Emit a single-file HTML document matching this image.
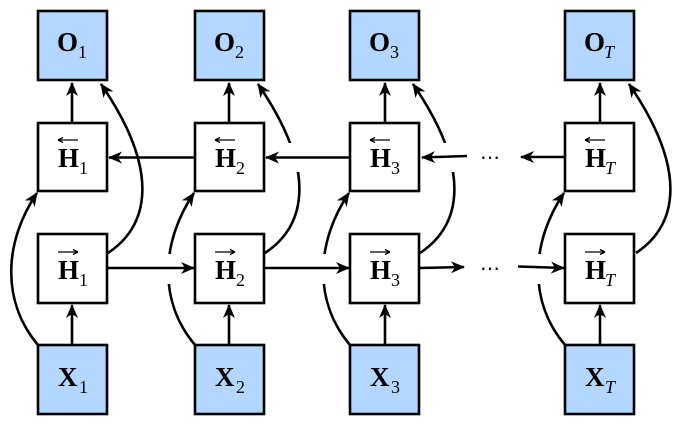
<!DOCTYPE html>
<html><head><meta charset="utf-8"><style>
html,body{margin:0;padding:0;background:#fff}
svg{display:block}
text{font-family:"Liberation Serif",serif}
.m{font-size:27px;font-weight:bold}
.s{font-size:18px;font-weight:normal}
.i{font-size:18px;font-weight:normal;font-style:italic}
</style></head><body>
<svg width="678" height="423" viewBox="0 0 678 423" xmlns="http://www.w3.org/2000/svg">
<defs>
<marker id="a" viewBox="0 0 14 12" refX="13" refY="6" markerWidth="14" markerHeight="12" markerUnits="userSpaceOnUse" orient="auto">
<path d="M0,0 L14,6 L0,12 L4,6 Z" fill="#000"/>
</marker>
</defs>
<g fill="none" stroke="#000" stroke-width="2.6">
<path d="M38,345 C0,300 5,240 37,193" marker-end="url(#a)"/>
<path d="M195,345 C157,300 162,240 194,193" marker-end="url(#a)"/>
<path d="M350,345 C312,300 317,240 349,193" marker-end="url(#a)"/>
<path d="M565,345 C527,300 532,240 564,193" marker-end="url(#a)"/>
<path d="M108,253 C150,225 160,170 101,84" marker-end="url(#a)"/>
<path d="M265,253 C307,225 317,170 258,84" marker-end="url(#a)"/>
<path d="M420,253 C462,225 472,170 413,84" marker-end="url(#a)"/>
<path d="M636,253 C678,225 688,170 629,84" marker-end="url(#a)"/>
</g>
<g fill="#fff">
<rect x="150" y="254" width="30" height="30"/>
<rect x="305" y="254" width="30" height="30"/>
<rect x="520" y="254" width="30" height="30"/>
<rect x="280" y="143" width="30" height="29"/>
<rect x="435" y="143" width="30" height="29"/>
</g>
<g fill="none" stroke="#000" stroke-width="2.6">
<path d="M72,123 V83" marker-end="url(#a)"/>
<path d="M229,123 V83" marker-end="url(#a)"/>
<path d="M385,123 V83" marker-end="url(#a)"/>
<path d="M600,123 V83" marker-end="url(#a)"/>
<path d="M72,345 V305" marker-end="url(#a)"/>
<path d="M229,345 V305" marker-end="url(#a)"/>
<path d="M385,345 V305" marker-end="url(#a)"/>
<path d="M600,345 V305" marker-end="url(#a)"/>
<path d="M195,157.5 H109" marker-end="url(#a)"/>
<path d="M350,157.5 H266" marker-end="url(#a)"/>
<path d="M467,156 L422,157.5" marker-end="url(#a)"/>
<path d="M565,157 H521" marker-end="url(#a)"/>
<path d="M108,268 H194" marker-end="url(#a)"/>
<path d="M265,268 H349" marker-end="url(#a)"/>
<path d="M420,268 L464,267" marker-end="url(#a)"/>
<path d="M518,266.5 L564,268" marker-end="url(#a)"/>
</g>
<g stroke="#000" stroke-width="2.6">
<rect x="38" y="11" width="69" height="69" fill="#b3d7ff"/>
<rect x="195" y="11" width="69" height="69" fill="#b3d7ff"/>
<rect x="350" y="11" width="69" height="69" fill="#b3d7ff"/>
<rect x="565" y="11" width="69" height="69" fill="#b3d7ff"/>
<rect x="38" y="123" width="69" height="68" fill="#fff"/>
<rect x="195" y="123" width="69" height="68" fill="#fff"/>
<rect x="350" y="123" width="69" height="68" fill="#fff"/>
<rect x="565" y="123" width="69" height="68" fill="#fff"/>
<rect x="38" y="234" width="69" height="69" fill="#fff"/>
<rect x="195" y="234" width="69" height="69" fill="#fff"/>
<rect x="350" y="234" width="69" height="69" fill="#fff"/>
<rect x="565" y="234" width="69" height="69" fill="#fff"/>
<rect x="38" y="345" width="69" height="69" fill="#b3d7ff"/>
<rect x="195" y="345" width="69" height="69" fill="#b3d7ff"/>
<rect x="350" y="345" width="69" height="69" fill="#b3d7ff"/>
<rect x="565" y="345" width="69" height="69" fill="#b3d7ff"/>
</g>
<g>
<text class="m" x="57" y="51">O</text><text class="s" x="78" y="58">1</text>
<text class="m" x="214" y="51">O</text><text class="s" x="235" y="58">2</text>
<text class="m" x="369" y="51">O</text><text class="s" x="390" y="58">3</text>
<text class="m" x="584" y="51">O</text><text class="i" x="604" y="58">T</text>

<text class="m" x="58" y="167">H</text><text class="s" x="79" y="174">1</text>
<text class="m" x="215" y="167">H</text><text class="s" x="236" y="174">2</text>
<text class="m" x="370" y="167">H</text><text class="s" x="391" y="174">3</text>
<text class="m" x="585" y="167">H</text><text class="i" x="605" y="174">T</text>

<text class="m" x="58" y="279">H</text><text class="s" x="79" y="286">1</text>
<text class="m" x="215" y="279">H</text><text class="s" x="236" y="286">2</text>
<text class="m" x="370" y="279">H</text><text class="s" x="391" y="286">3</text>
<text class="m" x="585" y="279">H</text><text class="i" x="605" y="286">T</text>

<text class="m" x="58" y="386">X</text><text class="s" x="79" y="393">1</text>
<text class="m" x="215" y="386">X</text><text class="s" x="236" y="393">2</text>
<text class="m" x="370" y="386">X</text><text class="s" x="391" y="393">3</text>
<text class="m" x="585" y="386">X</text><text class="i" x="605" y="393">T</text>
</g>
<g stroke="#000" stroke-width="1.3" fill="none">
<path d="M58,140 H78 M58,140 l5,-2.5 M58,140 l5,2.5"/>
<path d="M215,140 H235 M215,140 l5,-2.5 M215,140 l5,2.5"/>
<path d="M370,140 H390 M370,140 l5,-2.5 M370,140 l5,2.5"/>
<path d="M585,140 H605 M585,140 l5,-2.5 M585,140 l5,2.5"/>
<path d="M58,252 H78 M78,252 l-5,-2.5 M78,252 l-5,2.5"/>
<path d="M215,252 H235 M235,252 l-5,-2.5 M235,252 l-5,2.5"/>
<path d="M370,252 H390 M390,252 l-5,-2.5 M390,252 l-5,2.5"/>
<path d="M585,252 H605 M605,252 l-5,-2.5 M605,252 l-5,2.5"/>
</g>
<g font-size="20">
<text x="480" y="164">⋯</text>
<text x="480" y="275">⋯</text>
</g>
</svg>
</body></html>
